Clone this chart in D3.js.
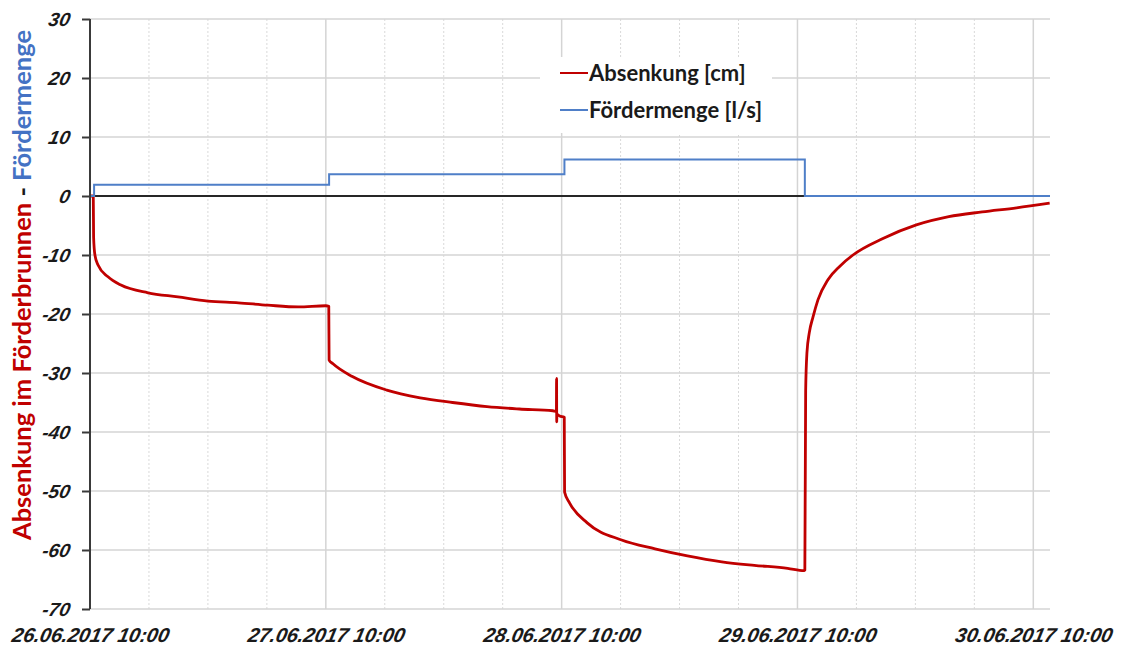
<!DOCTYPE html>
<html lang="de">
<head>
    <meta charset="UTF-8">
    <title>Pumpversuch Förderbrunnen</title>
    <script src="https://cdnjs.cloudflare.com/ajax/libs/d3/7.8.5/d3.min.js"></script>
    <style>
        body { margin: 0; background: #fff; }
        #chart svg { display: block; }
        .tick text { font-family: "Liberation Sans", Arial, sans-serif; font-weight: bold; font-style: italic; fill: #1a1a1a; }
        .grid line { stroke: #d4d4d4; }
        .grid-minor line { stroke: #d9d9d9; stroke-dasharray: 2,2; }
        .legend text { font-family: Lato, "Open Sans", sans-serif; font-weight: bold; font-size: 22px; fill: #1a1a1a; }
    </style>
</head>
<body>
<div id="chart"></div>
<script>
    "use strict";

    // Absenkung [cm]
    var absTimes = [
        "2017-06-26 10:00", "2017-06-26 10:20", "2017-06-26 10:22", "2017-06-26 10:30", "2017-06-26 10:49",
        "2017-06-26 11:50", "2017-06-26 13:09", "2017-06-26 15:54", "2017-06-26 18:57", "2017-06-26 22:00",
        "2017-06-27 01:06", "2017-06-27 04:06", "2017-06-27 07:12", "2017-06-27 10:00", "2017-06-27 10:18",
        "2017-06-27 10:20", "2017-06-27 10:42", "2017-06-27 12:42", "2017-06-27 16:12", "2017-06-27 19:36",
        "2017-06-27 22:54", "2017-06-28 02:24", "2017-06-28 05:42", "2017-06-28 09:06", "2017-06-28 09:28",
        "2017-06-28 09:29", "2017-06-28 09:30", "2017-06-28 09:31", "2017-06-28 09:48", "2017-06-28 10:16",
        "2017-06-28 10:18", "2017-06-28 10:48", "2017-06-28 12:36", "2017-06-28 16:06", "2017-06-28 19:30",
        "2017-06-28 22:48", "2017-06-29 02:18", "2017-06-29 05:36", "2017-06-29 09:00", "2017-06-29 10:40",
        "2017-06-29 10:45", "2017-06-29 10:50", "2017-06-29 10:58", "2017-06-29 11:12", "2017-06-29 11:35",
        "2017-06-29 12:05", "2017-06-29 13:06", "2017-06-29 14:19", "2017-06-29 15:39", "2017-06-29 18:42",
        "2017-06-29 22:06", "2017-06-30 01:24", "2017-06-30 04:48", "2017-06-30 08:18", "2017-06-30 11:40"
    ];
    var absValues = [
        0, 0, -7, -10, -11.7,
        -13.7, -15.1, -16.4, -17.1, -17.8,
        -18.1, -18.5, -18.8, -18.6, -18.7,
        -27.8, -28.4, -30.6, -32.9, -34.2,
        -35.0, -35.7, -36.1, -36.4, -36.5,
        -30.9, -38.3, -37.0, -37.3, -37.5,
        -50.2, -52.0, -55.4, -58.3, -59.8,
        -61.0, -62.0, -62.6, -63.1, -63.5,
        -63.4, -33.0, -26.5, -23.2, -20.5,
        -17.6, -14.2, -11.9, -10.0, -7.2,
        -4.9, -3.5, -2.7, -2.0, -1.2
    ];

    // Fördermenge [l/s], steps
    var flowTimes  = ["2017-06-26 10:00", "2017-06-26 10:25", "2017-06-27 10:20", "2017-06-28 10:17", "2017-06-29 10:45", "2017-06-30 11:42"];
    var flowValues = [0, 1.9, 3.7, 6.2, 0, 0];

    var yTicks = [30, 20, 10, 0, -10, -20, -30, -40, -50, -60, -70];
    var xTickLabels = ["26.06.2017 10:00", "27.06.2017 10:00", "28.06.2017 10:00", "29.06.2017 10:00", "30.06.2017 10:00"];
    var xStart = "2017-06-26 10:00", xEnd = "2017-06-30 11:42";

    var parseTime = d3.timeParse("%Y-%m-%d %H:%M");
    var parseLabel = d3.timeParse("%d.%m.%Y %H:%M");

    var absData = absTimes.map(function(t, i) { return { t: parseTime(t), v: absValues[i] }; });
    var flowData = flowTimes.map(function(t, i) { return { t: parseTime(t), v: flowValues[i] }; });
    var majorTicks = xTickLabels.map(parseLabel);

    var W = 1125, H = 646;
    var margin = { top: 19, right: 75, bottom: 37, left: 90 };
    var width = W - margin.left - margin.right,
        height = H - margin.top - margin.bottom;

    var svg = d3.select("#chart").append("svg")
        .attr("width", W)
        .attr("height", H)
        .attr("viewBox", [0, 0, W, H].join(" "));

    var g = svg.append("g")
        .attr("transform", "translate(" + margin.left + "," + margin.top + ")");

    var x = d3.scaleTime().domain([parseTime(xStart), parseTime(xEnd)]).range([0, width]);
    var y = d3.scaleLinear().domain([-70, 30]).range([height, 0]);

    // gridlines
    var minorTicks = d3.timeHour.range(x.domain()[0], x.domain()[1], 6)
        .filter(function(d) { return (d.getHours() - 10 + 24) % 24 !== 0; });

    g.append("g").attr("class", "grid-minor")
        .selectAll("line").data(minorTicks).enter().append("line")
        .attr("x1", function(d) { return x(d); }).attr("x2", function(d) { return x(d); })
        .attr("y1", 0).attr("y2", height)
        .attr("stroke-width", 1);

    g.append("g").attr("class", "grid")
        .selectAll("line").data(majorTicks.slice(1)).enter().append("line")
        .attr("x1", function(d) { return x(d); }).attr("x2", function(d) { return x(d); })
        .attr("y1", 0).attr("y2", height)
        .attr("stroke-width", 1.5);

    g.append("g").attr("class", "grid")
        .selectAll("line").data(yTicks).enter().append("line")
        .attr("x1", 0).attr("x2", width)
        .attr("y1", function(d) { return y(d); }).attr("y2", function(d) { return y(d); })
        .attr("stroke-width", 1.5);

    // legend box hides the grid behind it
    var legend = g.append("g").attr("class", "legend")
        .attr("transform", "translate(450,0)");
    legend.append("rect")
        .attr("x", 0).attr("y", 38).attr("width", 232).attr("height", 76)
        .attr("fill", "#fff");

    // zero line
    g.append("line")
        .attr("x1", 0).attr("x2", width)
        .attr("y1", y(0)).attr("y2", y(0))
        .attr("stroke", "#262626").attr("stroke-width", 2);

    // series
    var line = d3.line()
        .x(function(d) { return x(d.t); })
        .y(function(d) { return y(d.v); });

    g.append("path").datum(absData)
        .attr("fill", "none")
        .attr("stroke", "#c00000")
        .attr("stroke-width", 2.8)
        .attr("stroke-linejoin", "round")
        .attr("d", line.curve(d3.curveMonotoneX));

    g.append("path").datum(flowData)
        .attr("fill", "none")
        .attr("stroke", "#4f7fc8")
        .attr("stroke-width", 2)
        .attr("d", line.curve(d3.curveStepAfter));

    // axes (no italic face installed, so slant the labels)
    var yAxis = g.append("g")
        .call(d3.axisLeft(y).tickValues(yTicks).tickSize(8).tickPadding(12)
            .tickFormat(function(d) { return String(d); }));
    yAxis.selectAll(".tick text").style("font-size", "19px").attr("transform", "skewX(-12)");
    yAxis.selectAll("line, path").attr("stroke", "#3a3a3a").attr("stroke-width", 2);
    yAxis.select(".domain").attr("d", "M0,0V" + height);

    var xAxis = g.append("g")
        .attr("transform", "translate(0," + height + ")")
        .call(d3.axisBottom(x).tickValues(majorTicks).tickSize(0).tickPadding(19)
            .tickFormat(function(d, i) { return xTickLabels[i]; }));
    xAxis.select(".domain").remove();
    xAxis.selectAll(".tick text").style("font-size", "20px")
        .attr("transform", "translate(6,0) skewX(-12)");

    // legend entries
    var items = [
        { label: "Absenkung [cm]", color: "#c00000", y: 54 },
        { label: "Fördermenge [l/s]", color: "#4f7fc8", y: 91 }
    ];
    var li = legend.selectAll("g.item").data(items).enter().append("g").attr("class", "item")
        .attr("transform", function(d) { return "translate(0," + d.y + ")"; });
    li.append("line")
        .attr("x1", 20).attr("x2", 48).attr("y1", 0).attr("y2", 0)
        .attr("stroke", function(d) { return d.color; }).attr("stroke-width", 2);
    li.append("text")
        .attr("x", 49).attr("y", 0).attr("dy", "0.35em")
        .text(function(d) { return d.label; });

    // y title
    var title = svg.append("text")
        .attr("transform", "translate(31,285) rotate(-90)")
        .attr("text-anchor", "middle")
        .style("font-family", "Lato, 'Open Sans', sans-serif")
        .style("font-weight", "bold")
        .style("font-size", "25.5px");
    title.append("tspan").attr("fill", "#c00000").text("Absenkung im Förderbrunnen");
    title.append("tspan").attr("fill", "#1a1a1a").text(" - ");
    title.append("tspan").attr("fill", "#4472c4").text("Fördermenge");
</script>
</body>
</html>
